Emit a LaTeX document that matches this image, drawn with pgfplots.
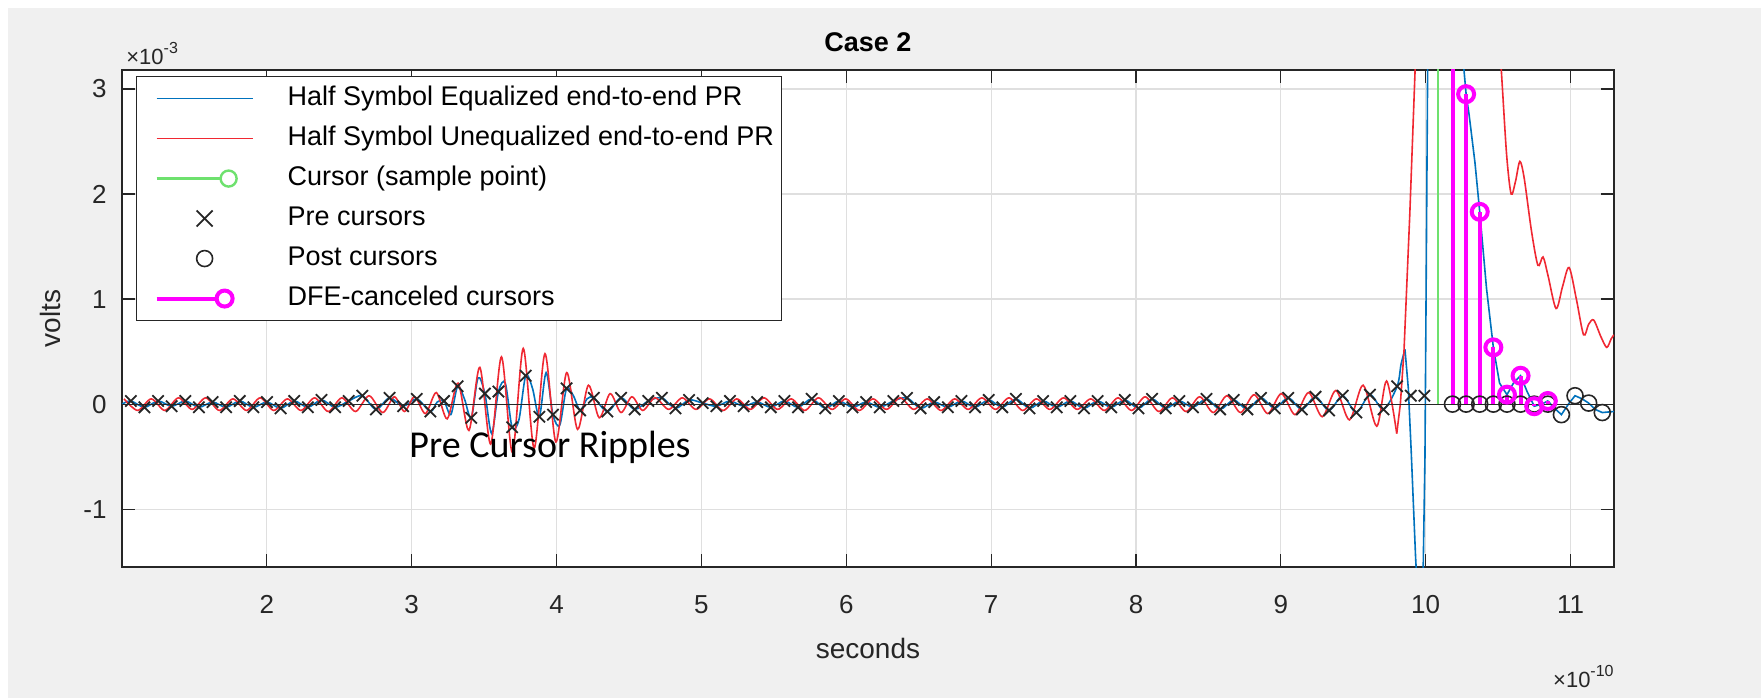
\documentclass[border=0pt]{standalone}
\usepackage{fontspec}
\setmainfont{Liberation Sans}
\newfontfamily\calibri{Carlito}
\usepackage{pgfplots}
\usepackage{pgfplotstable}
\pgfplotsset{compat=1.18}
\definecolor{mblue}{rgb}{0,0.447,0.741}
\definecolor{mred}{RGB}{240,40,50}
\definecolor{mgreen}{RGB}{110,225,110}
\definecolor{mmag}{RGB}{255,0,255}
\definecolor{figgray}{RGB}{240,240,240}
\definecolor{txtgray}{RGB}{38,38,38}
\definecolor{gridgray}{RGB}{223,223,223}
\newcommand\tickfont{\fontsize{13bp}{15.6bp}\selectfont}
\newcommand\expfont{\fontsize{11bp}{13bp}\selectfont}
\newcommand\supfont{\fontsize{8bp}{10bp}\selectfont}
\newcommand\legfont{\fontsize{13.5bp}{16bp}\selectfont}
\newcommand\labfont{\fontsize{14bp}{16.8bp}\selectfont}
\newcommand\titfont{\fontsize{13.5bp}{16.2bp}\selectfont}

\pgfplotstableread{
x y
1.061 0.03
1.155 -0.03
1.249 0.03
1.343 -0.02
1.437 0.03
1.531 -0.03
1.625 0.02
1.719 -0.03
1.813 0.03
1.907 -0.03
2.001 0.02
2.095 -0.04
2.189 0.03
2.283 -0.03
2.377 0.04
2.471 -0.03
2.565 0.03
2.659 0.08
2.753 -0.05
2.847 0.06
2.941 -0.02
3.035 0.05
3.129 -0.07
3.223 0.03
3.317 0.17
3.411 -0.13
3.505 0.10
3.599 0.12
3.693 -0.22
3.787 0.27
3.881 -0.12
3.975 -0.10
4.069 0.15
4.163 -0.06
4.257 0.06
4.351 -0.07
4.445 0.06
4.539 -0.05
4.633 0.03
4.727 0.06
4.821 -0.04
4.915 0.04
5.009 0.01
5.103 -0.02
5.197 0.03
5.291 -0.02
5.385 0.02
5.479 -0.03
5.573 0.03
5.667 -0.03
5.761 0.05
5.855 -0.04
5.949 0.03
6.043 -0.03
6.137 0.02
6.231 -0.03
6.325 0.03
6.419 0.06
6.513 -0.04
6.607 0.02
6.701 -0.03
6.795 0.03
6.889 -0.03
6.983 0.04
7.077 -0.03
7.171 0.05
7.265 -0.04
7.359 0.03
7.453 -0.03
7.547 0.03
7.641 -0.04
7.735 0.03
7.829 -0.03
7.923 0.04
8.017 -0.04
8.111 0.05
8.205 -0.04
8.299 0.03
8.393 -0.03
8.487 0.05
8.581 -0.05
8.675 0.04
8.769 -0.05
8.863 0.06
8.957 -0.04
9.051 0.06
9.145 -0.05
9.239 0.07
9.333 -0.06
9.427 0.08
9.521 -0.08
9.615 0.09
9.709 -0.05
9.803 0.17
9.897 0.08
9.991 0.08
}\precursors

\pgfplotstableread{
x y
10.185 0
10.279 0
10.373 0
10.467 0
10.561 0
10.655 0
10.749 0
10.843 0
10.937 -0.10
11.031 0.08
11.125 0.01
11.219 -0.08
11.313 -0.07
}\postcursors

\pgfplotstableread{
x y
10.185 8.0
10.279 2.95
10.373 1.83
10.467 0.54
10.561 0.09
10.655 0.27
10.749 -0.02
10.843 0.03
}\dfe

\pgfplotstableread{
x y
10.185 0
10.185 8.0
10.185 nan
10.279 0
10.279 2.95
10.279 nan
10.373 0
10.373 1.83
10.373 nan
10.467 0
10.467 0.54
10.467 nan
10.561 0
10.561 0.09
10.561 nan
10.655 0
10.655 0.27
10.655 nan
10.749 0
10.749 -0.02
10.749 nan
10.843 0
10.843 0.03
}\dfestems

\pgfplotstableread{
x y
1.000 0.00
1.061 0.03
1.155 -0.03
1.249 0.03
1.343 -0.02
1.437 0.03
1.531 -0.03
1.625 0.02
1.719 -0.03
1.813 0.03
1.907 -0.03
2.001 0.02
2.095 -0.04
2.189 0.03
2.283 -0.03
2.377 0.04
2.471 -0.03
2.565 0.03
2.659 0.08
2.753 -0.05
2.847 0.06
2.941 -0.02
3.035 0.05
3.129 -0.07
3.176 0.02
3.223 0.03
3.270 -0.10
3.317 0.17
3.364 0.05
3.411 -0.13
3.458 0.25
3.505 0.10
3.552 -0.28
3.599 0.12
3.646 0.20
3.693 -0.22
3.740 -0.15
3.787 0.27
3.834 0.15
3.881 -0.12
3.928 0.30
3.975 -0.10
4.022 -0.20
4.069 0.15
4.116 0.08
4.163 -0.06
4.210 0.05
4.257 0.06
4.351 -0.07
4.445 0.06
4.539 -0.05
4.633 0.03
4.727 0.06
4.821 -0.04
4.915 0.04
5.009 0.01
5.103 -0.02
5.197 0.03
5.291 -0.02
5.385 0.02
5.479 -0.03
5.573 0.03
5.667 -0.03
5.761 0.05
5.855 -0.04
5.949 0.03
6.043 -0.03
6.137 0.02
6.231 -0.03
6.325 0.03
6.419 0.06
6.513 -0.04
6.607 0.02
6.701 -0.03
6.795 0.03
6.889 -0.03
6.983 0.04
7.077 -0.03
7.171 0.05
7.265 -0.04
7.359 0.03
7.453 -0.03
7.547 0.03
7.641 -0.04
7.735 0.03
7.829 -0.03
7.923 0.04
8.017 -0.04
8.111 0.05
8.205 -0.04
8.299 0.03
8.393 -0.03
8.487 0.05
8.581 -0.05
8.675 0.04
8.769 -0.05
8.863 0.06
8.957 -0.04
9.051 0.06
9.145 -0.05
9.239 0.07
9.333 -0.06
9.427 0.08
9.521 -0.08
9.615 0.09
9.709 -0.05
9.803 0.17
9.830 0.38
9.857 0.52
}\blueA

\pgfplotstableread{
x y
9.857 0.52
9.880 0.15
9.900 -0.45
9.930 -1.45
9.955 -2.10
9.980 -1.80
9.995 -0.50
10.005 1.50
10.015 3.50
10.040 7.00
10.085 9.50
10.130 9.20
10.180 6.50
10.220 4.50
10.250 3.40
10.279 2.95
10.300 2.75
10.340 2.30
10.373 1.83
10.420 1.10
10.467 0.54
10.510 0.20
10.561 0.09
10.610 0.21
10.655 0.27
10.700 0.12
10.749 -0.02
10.800 0.00
10.843 0.03
10.890 -0.04
10.937 -0.10
10.985 0.00
11.031 0.08
11.080 0.05
11.125 0.01
11.170 -0.05
11.219 -0.08
11.300 -0.07
}\blueB

\pgfplotstableread{
x y
1.014 0.05
1.108 -0.06
1.202 0.05
1.296 -0.06
1.390 0.06
1.484 -0.05
1.578 0.06
1.672 -0.06
1.766 0.05
1.860 -0.06
1.954 0.06
2.048 -0.06
2.142 0.05
2.236 -0.06
2.330 0.06
2.424 -0.07
2.518 0.06
2.612 -0.07
2.706 0.08
2.800 -0.08
2.880 0.07
2.950 -0.07
3.020 0.07
3.095 -0.09
3.170 0.11
3.245 -0.14
3.320 0.20
3.395 -0.25
3.470 0.35
3.545 -0.38
3.620 0.45
3.695 -0.46
3.770 0.53
3.845 -0.42
3.920 0.48
3.995 -0.36
4.070 0.30
4.145 -0.24
4.220 0.18
4.295 -0.13
4.370 0.10
4.445 -0.08
4.520 0.07
4.595 -0.06
4.680 0.06
4.774 -0.05
4.868 0.06
4.962 -0.05
5.056 0.05
5.150 -0.06
5.244 0.05
5.338 -0.05
5.432 0.06
5.526 -0.05
5.620 0.05
5.714 -0.06
5.808 0.06
5.902 -0.05
5.996 0.05
6.090 -0.06
6.184 0.05
6.278 -0.05
6.372 0.06
6.466 -0.05
6.560 0.05
6.654 -0.06
6.748 0.05
6.842 -0.05
6.936 0.06
7.030 -0.05
7.124 0.06
7.218 -0.06
7.312 0.05
7.406 -0.05
7.500 0.06
7.594 -0.05
7.688 0.05
7.782 -0.06
7.876 0.06
7.970 -0.06
8.064 0.07
8.158 -0.07
8.252 0.06
8.346 -0.07
8.440 0.07
8.534 -0.08
8.628 0.08
8.722 -0.08
8.816 0.09
8.910 -0.09
9.004 0.10
9.098 -0.10
9.192 0.11
9.286 -0.12
9.380 0.13
9.474 -0.15
9.568 0.18
9.662 -0.21
9.730 0.22
9.800 -0.28
}\redA

\pgfplotstableread{
x y
9.800 -0.28
9.825 0.00
9.850 0.50
9.890 1.80
9.930 3.30
9.970 5.50
10.050 9.00
10.200 12.00
10.350 8.00
10.470 4.60
}\redB

\pgfplotstableread{
x y
10.470 4.60
10.500 3.70
10.530 3.00
10.560 2.35
10.590 2.00
10.620 2.12
10.650 2.31
10.680 2.15
10.730 1.65
10.775 1.32
10.810 1.40
10.845 1.22
10.900 0.91
10.945 1.12
10.990 1.30
11.040 1.00
11.090 0.66
11.125 0.76
11.160 0.80
11.210 0.64
11.250 0.54
11.280 0.62
11.300 0.66
}\redC

\begin{document}
\begin{tikzpicture}
\useasboundingbox (-61bp,-65.5bp) rectangle (819.5bp,283.5bp);
\fill[white] (-61bp,-65.5bp) rectangle (819.5bp,283.5bp);
\fill[figgray] (-57bp,-65.5bp) rectangle (819.5bp,279.5bp);
\begin{axis}[
  at={(0,0)}, anchor=south west, scale only axis,
  width=746bp, height=248.5bp,
  xmin=1, xmax=11.3, ymin=-1.55, ymax=3.18,
  axis background/.style={fill=white},
  xtick={2,3,4,5,6,7,8,9,10,11},
  xticklabels={2,3,4,5,6,7,8,9,10,11},
  ytick={-1,0,1,2,3},
  yticklabels={-1,0,1,2,3},
  tick align=inside, major tick length=6.5bp,
  every tick/.style={txtgray, line width=0.6bp},
  axis line style={txtgray, line width=0.6bp},
  grid=major, major grid style={gridgray, line width=0.6bp},
  ticklabel style={font=\tickfont, text=txtgray},
  xticklabel style={anchor=base, yshift=-23bp},
  yticklabel style={anchor=east, inner xsep=0pt, xshift=-7.5bp},
  xlabel={seconds},
  xlabel style={font=\labfont, text=txtgray, at={(axis description cs:0.5,0)}, anchor=base, yshift=-45.5bp},
  ylabel={volts},
  ylabel style={font=\labfont, text=txtgray, at={(axis description cs:-0.048,0.5)}, anchor=center},
  legend cell align=left,
  legend style={at={(0.0094,0.988)}, anchor=north west, draw=txtgray, line width=0.6bp,
    fill=white, inner xsep=0.5bp, inner ysep=4.9bp, row sep=7.8bp, font=\legfont, text=black,
    nodes={inner ysep=0bp, inner xsep=3.5bp, text height=9.5bp, text depth=2.7bp}},
]
% legend entries
\addlegendimage{legend image code/.code={\path[draw=none,fill=none] (-9.5bp,-4.5bp) rectangle (62bp,4.5bp); \draw[mblue, line width=0.8bp] (0bp,0bp) -- (48bp,0bp);}}
\addlegendentry{Half Symbol Equalized end-to-end PR}
\addlegendimage{legend image code/.code={\path[draw=none,fill=none] (-9.5bp,-4.5bp) rectangle (62bp,4.5bp); \draw[mred, line width=0.8bp] (0bp,0bp) -- (48bp,0bp);}}
\addlegendentry{Half Symbol Unequalized end-to-end PR}
\addlegendimage{legend image code/.code={\path[draw=none,fill=none] (-9.5bp,-4.5bp) rectangle (62bp,4.5bp); \draw[mgreen, line width=1.2bp] (0bp,0bp) -- (36bp,0bp); \draw[mgreen, line width=1.2bp, fill=white] (36bp,0bp) circle (4bp);}}
\addlegendentry{Cursor (sample point)}
\addlegendimage{legend image code/.code={\path[draw=none,fill=none] (-9.5bp,-4.5bp) rectangle (62bp,4.5bp); \draw[black!85, line width=0.9bp] (20bp,-4bp) -- (28bp,4bp) (20bp,4bp) -- (28bp,-4bp);}}
\addlegendentry{Pre cursors}
\addlegendimage{legend image code/.code={\path[draw=none,fill=none] (-9.5bp,-4.5bp) rectangle (62bp,4.5bp); \draw[black!85, line width=0.8bp] (24bp,0bp) circle (4bp);}}
\addlegendentry{Post cursors}
\addlegendimage{legend image code/.code={\path[draw=none,fill=none] (-9.5bp,-4.5bp) rectangle (62bp,4.5bp); \draw[mmag, line width=2bp] (0bp,0bp) -- (34bp,0bp); \draw[mmag, line width=2bp, fill=white] (34bp,0bp) circle (4bp);}}
\addlegendentry{DFE-canceled cursors}

% curves
\addplot[mblue, line width=0.8bp, smooth, tension=0.5, forget plot] table {\blueA};
\addplot[mblue, line width=0.8bp, forget plot] table {\blueB};
\addplot[mred, line width=0.8bp, smooth, tension=0.5, forget plot] table {\redA};
\addplot[mred, line width=0.8bp, forget plot] table {\redB};
\addplot[mred, line width=0.8bp, smooth, tension=0.5, forget plot] table {\redC};
% baseline
\addplot[txtgray, line width=0.6bp, forget plot] coordinates {(1,0) (11.3,0)};
% cursor stem
\addplot[mgreen, line width=1.3bp, forget plot] coordinates {(10.085,0) (10.085,12)};
% pre cursors
\addplot[only marks, mark=x, mark size=4bp, mark options={black!85, line width=0.9bp}, forget plot] table {\precursors};
% post cursors
\addplot[only marks, mark=o, mark size=4bp, mark options={black!85, line width=0.8bp, fill=none}, forget plot] table {\postcursors};
% DFE canceled stems
\addplot[mmag, line width=2bp, unbounded coords=jump, forget plot] table {\dfestems};
\addplot[only marks, mark=o, mark size=4bp, mark options={mmag, line width=2bp, fill=none}, forget plot] table {\dfe};

\node[font={\calibri\fontsize{19bp}{22bp}\selectfont}, text=black, anchor=base] at (axis cs:3.955,-0.51) {Pre Cursor Ripples};
\end{axis}
\node[font=\titfont\bfseries, text=black, anchor=base] at (373bp,257.5bp) {Case 2};
\node[font=\expfont, text=txtgray, anchor=base west, inner sep=0pt] at (2bp,251bp) {×10\raisebox{0.5em}{\supfont -3}};
\node[font=\expfont, text=txtgray, anchor=base east, inner sep=0pt] at (746bp,-60bp) {×10\raisebox{0.5em}{\supfont -10}};
\end{tikzpicture}
\end{document}
